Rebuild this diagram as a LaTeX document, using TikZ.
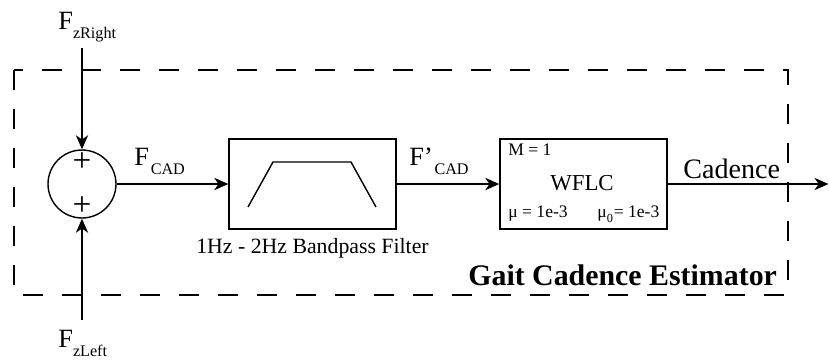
\documentclass[tikz,border=0pt]{standalone}
\usepackage{fontspec}
\setmainfont{Liberation Serif}
\usetikzlibrary{arrows.meta}

% signal name with a lowered subscript
\newcommand\sig[2]{#1\raisebox{-5.6pt}{\fontsize{9.2}{10}\selectfont #2}}

\begin{document}
\begin{tikzpicture}[x=0.02cm, y=-0.02cm,
                    c/.style={line width=0.8pt, line join=miter},
                    sigline/.style={c, -{Stealth[length=8pt, width=7pt, inset=2.4pt]}},
                    frame/.style={c, dash pattern=on 11.4pt off 10.8pt},
                    block/.style={c, draw, minimum width=3.34cm, minimum height=1.8cm, inner sep=0pt},
                    big/.style={inner sep=0pt, font=\fontsize{15}{18}\selectfont},
                    small/.style={inner sep=0pt, font=\fontsize{10}{12}\selectfont},
                    plussign/.style={inner sep=0pt, font=\fontsize{19}{20}\selectfont}]
  \useasboundingbox (0,0) rectangle (829,360);
  % estimator frame
  \draw[frame] (14,70) rectangle (788,295);
  \node[anchor=base west, inner sep=0pt, font=\bfseries\fontsize{17}{20}\selectfont]
    (title) at (468,285) {Gait Cadence Estimator};
  % summing junction
  \node[c, draw, circle, minimum size=1.36cm, inner sep=0pt] (sum) at (82,184) {};
  \node[plussign] (plusR) at (82,162.5) {+};
  \node[plussign] (plusL) at (82,206) {+};
  \node[big, anchor=base west] (fzr) at (58,29) {\sig{F}{zRight}};
  \node[big, anchor=base west] (fzl) at (58,347) {\sig{F}{zLeft}};
  \coordinate (inR) at (82,48);
  \coordinate (inL) at (82,320);
  \draw[sigline] (inR) -- (sum.north);
  \draw[sigline] (inL) -- (sum.south);
  % bandpass filter
  \node[block] (bpf) at (312.5,184) {};
  \draw[c] (248,207) -- (273,162) -- (351,162) -- (376,207);
  \node[anchor=base, inner sep=0pt, font=\fontsize{12.4}{14}\selectfont]
    (bpflbl) at (312.5,253) {1Hz - 2Hz Bandpass Filter};
  \node[big, anchor=base west] (fcad) at (134,165) {\sig{F}{\kern1pt CAD}};
  \draw[sigline] (sum.east) -- (bpf.west);
  % WFLC
  \node[block] (wflc) at (583.5,184) {};
  \node[anchor=base, inner sep=0pt, font=\fontsize{13}{15}\selectfont] (wflcname) at (582,190) {WFLC};
  \node[small, anchor=base west] (mval) at (508,155) {M = 1};
  \node[small, anchor=base west] (mu) at (508,217) {μ = 1e-3};
  \node[small, anchor=base west] (muzero) at (597,217)
    {μ\raisebox{-3pt}{\fontsize{7}{8}\selectfont 0}\kern0.5pt = 1e-3};
  \node[big, anchor=base west] (fpcad) at (409,165) {\sig{F’}{\kern1pt CAD}};
  \draw[sigline] (bpf.east) -- (wflc.west);
  % output
  \node[anchor=base west, inner sep=0pt, font=\fontsize{16}{19}\selectfont] (cad) at (683,178) {Cadence};
  \coordinate (out) at (828.5,184);
  \draw[sigline] (wflc.east) -- (out);
\end{tikzpicture}
\end{document}
